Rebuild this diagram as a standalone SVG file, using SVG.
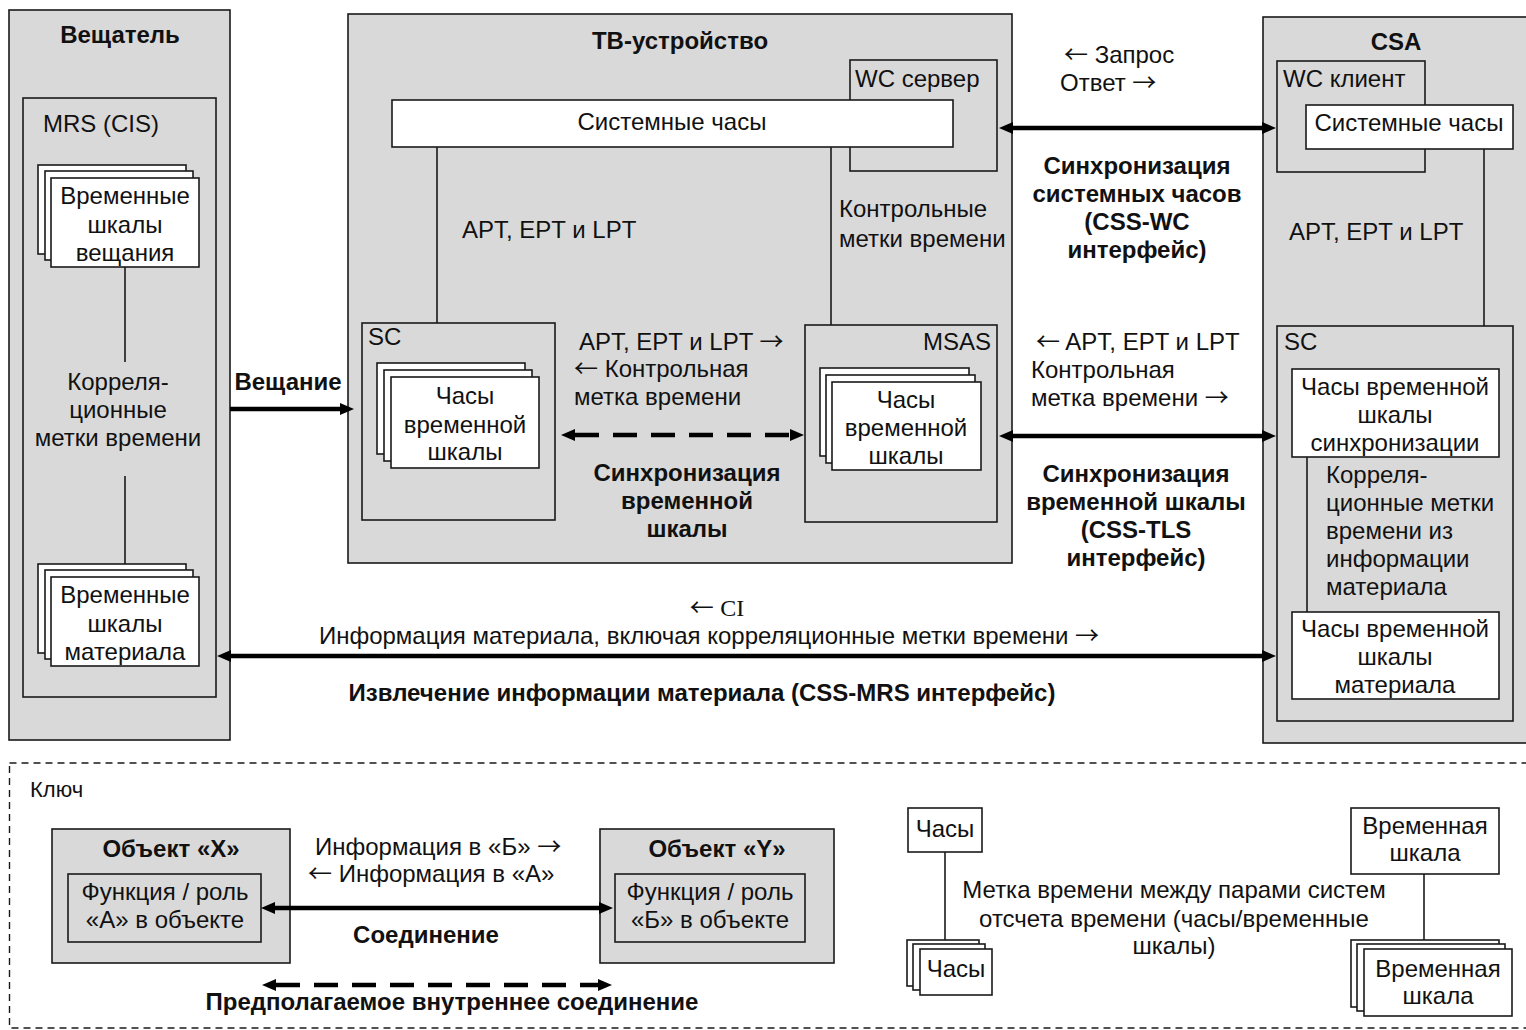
<svg xmlns="http://www.w3.org/2000/svg" width="1526" height="1030" viewBox="0 0 1526 1030">
<defs>
<style>
.g{fill:#d9d9d9;stroke:#1a1a1a;stroke-width:1.6}
.w{fill:#fff;stroke:#1a1a1a;stroke-width:1.6}
text{font-family:"Liberation Sans",Arial,sans-serif;font-size:24px;fill:#111}
.b{font-weight:bold}
.m{text-anchor:middle}
.e{text-anchor:end}
.ar{font-family:"Noto Sans CJK SC","DejaVu Sans",sans-serif;font-weight:normal}
.ln{stroke:#1a1a1a;stroke-width:1.6;fill:none}
.c{stroke:#000;stroke-width:4.5;fill:none}
.d{stroke-dasharray:24 14}
</style>
<marker id="ah" viewBox="0 0 14 12" refX="0" refY="6" markerWidth="14" markerHeight="12" markerUnits="userSpaceOnUse" orient="auto-start-reverse"><path d="M0,0 L14,6 L0,12 z" fill="#000"/></marker>
</defs>
<rect width="1526" height="1030" fill="#fff"/>

<g id="broadcaster">
<rect class="g" x="9" y="10" width="221" height="730"/>
<text class="b m" x="120" y="43">Вещатель</text>
</g>
<g id="mrs">
<rect class="g" x="23" y="98" width="193" height="599"/>
<text x="43" y="132">MRS (CIS)</text>
</g>
<g id="broadcast-timelines">
<rect class="w" x="38" y="165" width="148" height="89"/>
<rect class="w" x="45" y="171" width="148" height="89"/>
<rect class="w" x="51" y="178" width="148" height="89"/>
<text class="m" x="125" y="204">Временные</text>
<text class="m" x="125" y="233">шкалы</text>
<text class="m" x="125" y="261">вещания</text>
</g>
<g id="mrs-correlation">
<line class="ln" x1="125" y1="267" x2="125" y2="362"/>
<text class="m" x="118" y="390">Корреля-</text>
<text class="m" x="118" y="418">ционные</text>
<text class="m" x="118" y="446">метки времени</text>
<line class="ln" x1="125" y1="476" x2="125" y2="564"/>
</g>
<g id="content-timelines">
<rect class="w" x="38" y="564" width="148" height="89"/>
<rect class="w" x="45" y="570" width="148" height="89"/>
<rect class="w" x="51" y="577" width="148" height="89"/>
<text class="m" x="125" y="603">Временные</text>
<text class="m" x="125" y="632">шкалы</text>
<text class="m" x="125" y="660">материала</text>
</g>

<g id="tv-device">
<rect class="g" x="348" y="14" width="664" height="549"/>
<text class="b m" x="680" y="49">ТВ-устройство</text>
</g>
<g id="wc-server">
<rect class="g" x="850" y="60" width="147" height="111"/>
<text x="855" y="87">WC сервер</text>
</g>
<g id="tv-system-clock">
<rect class="w" x="392" y="100" width="561" height="47"/>
<text class="m" x="672" y="130">Системные часы</text>
</g>
<g id="tv-lines">
<line class="ln" x1="437" y1="147" x2="437" y2="363"/>
<line class="ln" x1="831" y1="147" x2="831" y2="368"/>
<text x="462" y="238">APT, EPT и LPT</text>
<text x="839" y="217">Контрольные</text>
<text x="839" y="247">метки времени</text>
</g>
<g id="sc">
<rect class="g" x="362" y="323" width="193" height="197"/>
<text x="368" y="345">SC</text>
<rect class="w" x="377" y="363" width="148" height="91"/>
<rect class="w" x="384" y="370" width="148" height="91"/>
<rect class="w" x="391" y="377" width="148" height="91"/>
<text class="m" x="465" y="404">Часы</text>
<text class="m" x="465" y="433">временной</text>
<text class="m" x="465" y="460">шкалы</text>
</g>
<g id="msas">
<rect class="g" x="805" y="325" width="192" height="197"/>
<text class="e" x="991" y="350">MSAS</text>
<rect class="w" x="820" y="368" width="149" height="88"/>
<rect class="w" x="826" y="375" width="149" height="88"/>
<rect class="w" x="832" y="382" width="149" height="88"/>
<text class="m" x="906" y="408">Часы</text>
<text class="m" x="906" y="436">временной</text>
<text class="m" x="906" y="464">шкалы</text>
</g>
<g id="tv-sync-labels">
<text x="579" y="350">APT, EPT и LPT <tspan class="ar">→</tspan></text>
<text x="574" y="377"><tspan class="ar">←</tspan> Контрольная</text>
<text x="574" y="405">метка времени</text>
<text class="b m" x="687" y="481">Синхронизация</text>
<text class="b m" x="687" y="509">временной</text>
<text class="b m" x="687" y="537">шкалы</text>
</g>

<g id="csa">
<rect class="g" x="1263" y="17" width="280" height="726"/>
<text class="b m" x="1396" y="50">CSA</text>
<text x="1289" y="240">APT, EPT и LPT</text>
</g>
<g id="wc-client">
<rect class="g" x="1277" y="61" width="148" height="111"/>
<text x="1283" y="87">WC клиент</text>
</g>
<g id="csa-system-clock">
<rect class="w" x="1306" y="105" width="207" height="44"/>
<text class="m" x="1409" y="131">Системные часы</text>
<line class="ln" x1="1484" y1="149" x2="1484" y2="369"/>
</g>
<g id="csa-sc">
<rect class="g" x="1277" y="326" width="236" height="395"/>
<text x="1284" y="350">SC</text>
</g>
<g id="sync-timeline-clock">
<rect class="w" x="1292" y="369" width="207" height="88"/>
<text class="m" x="1395" y="395">Часы временной</text>
<text class="m" x="1395" y="423">шкалы</text>
<text class="m" x="1395" y="451">синхронизации</text>
</g>
<g id="csa-correlation">
<line class="ln" x1="1307" y1="457" x2="1307" y2="612"/>
<text x="1326" y="483">Корреля-</text>
<text x="1326" y="511">ционные метки</text>
<text x="1326" y="539">времени из</text>
<text x="1326" y="567">информации</text>
<text x="1326" y="595">материала</text>
</g>
<g id="content-timeline-clock">
<rect class="w" x="1292" y="612" width="207" height="87"/>
<text class="m" x="1395" y="637">Часы временной</text>
<text class="m" x="1395" y="665">шкалы</text>
<text class="m" x="1395" y="693">материала</text>
</g>

<g id="interface-labels">
<text x="1064" y="63"><tspan class="ar">←</tspan> Запрос</text>
<text x="1060" y="91">Ответ <tspan class="ar">→</tspan></text>
<text class="b m" x="1137" y="174">Синхронизация</text>
<text class="b m" x="1137" y="202">системных часов</text>
<text class="b m" x="1137" y="230">(CSS-WC</text>
<text class="b m" x="1137" y="258">интерфейс)</text>
<text x="1036" y="350"><tspan class="ar">←</tspan> APT, EPT и LPT</text>
<text x="1031" y="378">Контрольная</text>
<text x="1031" y="406">метка времени <tspan class="ar">→</tspan></text>
<text class="b m" x="1136" y="482">Синхронизация</text>
<text class="b m" x="1136" y="510">временной шкалы</text>
<text class="b m" x="1136" y="538">(CSS-TLS</text>
<text class="b m" x="1136" y="566">интерфейс)</text>
<text class="b m" x="288" y="390">Вещание</text>
<text class="m" x="717" y="616"><tspan class="ar">←</tspan> <tspan style="font-family:'Liberation Serif',serif">CI</tspan></text>
<text class="m" x="709" y="644">Информация материала, включая корреляционные метки времени <tspan class="ar">→</tspan></text>
<text class="b m" x="702" y="701">Извлечение информации материала (CSS-MRS интерфейс)</text>
</g>

<g id="key">
<rect x="9.5" y="763" width="1540" height="265" fill="none" stroke="#1a1a1a" stroke-width="1.4" stroke-dasharray="7 5"/>
<text x="30" y="797" style="font-size:22px">Ключ</text>
</g>
<g id="key-object-x">
<rect class="g" x="52" y="829" width="238" height="134"/>
<text class="b m" x="171" y="857">Объект «X»</text>
<rect class="g" x="68" y="874" width="193" height="68"/>
<text class="m" x="165" y="900">Функция / роль</text>
<text class="m" x="165" y="928">«А» в объекте</text>
</g>
<g id="key-object-y">
<rect class="g" x="600" y="829" width="234" height="134"/>
<text class="b m" x="717" y="857">Объект «Y»</text>
<rect class="g" x="615" y="874" width="190" height="68"/>
<text class="m" x="710" y="900">Функция / роль</text>
<text class="m" x="710" y="928">«Б» в объекте</text>
</g>
<g id="key-labels">
<text x="315" y="855">Информация в «Б» <tspan class="ar">→</tspan></text>
<text x="308" y="882"><tspan class="ar">←</tspan> Информация в «А»</text>
<text class="b m" x="426" y="943">Соединение</text>
<text class="b m" x="452" y="1010">Предполагаемое внутреннее соединение</text>
</g>
<g id="key-clock">
<rect class="w" x="908" y="808" width="74" height="44"/>
<text class="m" x="945" y="837">Часы</text>
<line class="ln" x1="945" y1="852" x2="945" y2="940"/>
</g>
<g id="key-clocks">
<rect class="w" x="907" y="940" width="72" height="46"/>
<rect class="w" x="913" y="944" width="72" height="46"/>
<rect class="w" x="920" y="949" width="72" height="46"/>
<text class="m" x="956" y="977">Часы</text>
</g>
<g id="key-timeline">
<rect class="w" x="1351" y="808" width="148" height="66"/>
<text class="m" x="1425" y="834">Временная</text>
<text class="m" x="1425" y="861">шкала</text>
<line class="ln" x1="1424" y1="874" x2="1424" y2="940"/>
</g>
<g id="key-timelines">
<rect class="w" x="1351" y="940" width="148" height="67"/>
<rect class="w" x="1357" y="944" width="148" height="67"/>
<rect class="w" x="1364" y="949" width="148" height="67"/>
<text class="m" x="1438" y="977">Временная</text>
<text class="m" x="1438" y="1004">шкала</text>
</g>
<g id="key-note">
<text class="m" x="1174" y="898">Метка времени между парами систем</text>
<text class="m" x="1174" y="927">отсчета времени (часы/временные</text>
<text class="m" x="1174" y="954">шкалы)</text>
</g>

<g id="connectors">
<line class="c" x1="1013" y1="128" x2="1262" y2="128" marker-start="url(#ah)" marker-end="url(#ah)"/>
<line class="c" x1="1013" y1="436" x2="1262" y2="436" marker-start="url(#ah)" marker-end="url(#ah)"/>
<line class="c" x1="230" y1="409" x2="340" y2="409" marker-end="url(#ah)"/>
<line class="c" x1="231" y1="656" x2="1262" y2="656" marker-start="url(#ah)" marker-end="url(#ah)"/>
<line class="c d" x1="575" y1="435" x2="790" y2="435" marker-start="url(#ah)" marker-end="url(#ah)"/>
<line class="c" x1="275" y1="908" x2="599" y2="908" marker-start="url(#ah)" marker-end="url(#ah)"/>
<line class="c d" x1="276" y1="985" x2="598" y2="985" marker-start="url(#ah)" marker-end="url(#ah)"/>
</g>
</svg>
